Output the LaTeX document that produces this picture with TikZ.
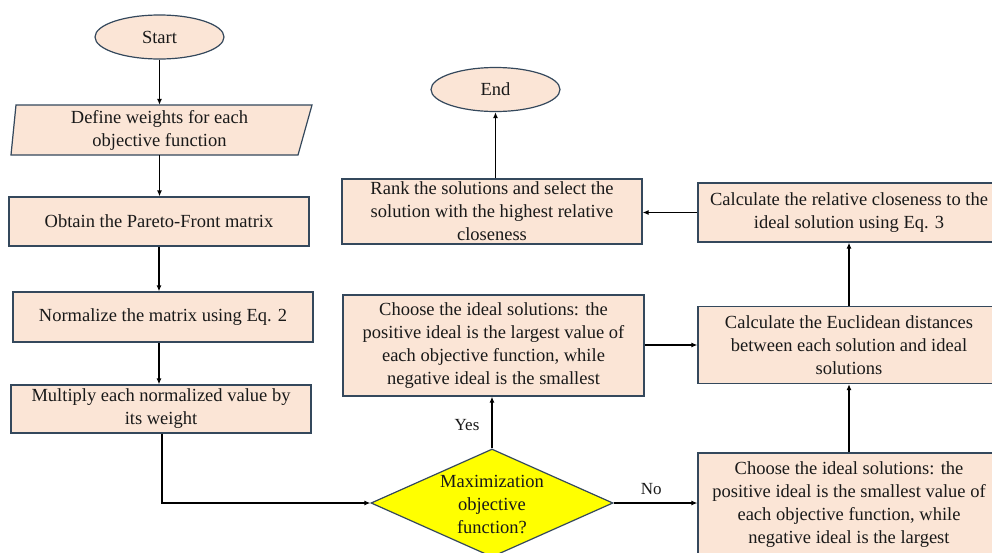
\documentclass[tikz,border=0pt]{standalone}
\usepackage{fontspec}
\setmainfont{Liberation Serif}
\usetikzlibrary{shapes.geometric,arrows.meta}
\definecolor{boxfill}{RGB}{251,229,214}
\definecolor{boxline}{RGB}{52,72,92}
\definecolor{txt}{RGB}{25,25,25}
\definecolor{decfill}{RGB}{255,255,0}
\begin{document}
\begin{tikzpicture}[x=1pt,y=-1pt,
  every node/.style={font=\fontsize{18.5}{23}\selectfont, text=txt, align=center, inner sep=0pt},
  proc/.style={rectangle, draw=boxline, fill=boxfill, line width=1.2pt},
  term/.style={ellipse, draw=boxline, fill=boxfill, line width=1.2pt, minimum width=129pt, minimum height=44pt},
  arr/.style={-{Latex[length=6pt,width=5pt]}, line width=1.2pt, black},
  lbl/.style={font=\fontsize{17}{20}\selectfont}
]
\clip (0,0) rectangle (992,552);
\fill[white] (0,0) rectangle (992,552);

% left column
\node[term] (start) at (159.5,37) {Start};

\coordinate (wa) at (16,105);
\coordinate (wb) at (312,105);
\coordinate (wc) at (298,155);
\coordinate (wd) at (11,155);
\draw[draw=boxline, fill=boxfill, line width=1.2pt] (wa) -- (wb) -- (wc) -- (wd) -- cycle;
\node[minimum width=287pt, minimum height=50pt] (weights) at (159.5,130) {Define weights for each\\objective function};

\node[proc, minimum width=300pt, minimum height=49pt] (obtain) at (159,221.5) {Obtain the Pareto-Front matrix};
\node[proc, minimum width=300pt, minimum height=50pt] (normal) at (163,317) {Normalize the matrix using Eq. 2};
\node[proc, minimum width=300pt, minimum height=48pt] (multiply) at (161,409) {Multiply each normalized value by\\its weight};

% decision
\node[diamond, draw=boxline, fill=decfill, line width=1.2pt, minimum width=242pt, minimum height=108pt] (dec) at (492,503) {};
\node (dectext) at (492,504) {Maximization\\objective\\function?};

% middle column
\node[term] (end) at (495.5,89.5) {End};
\node[proc, minimum width=300pt, minimum height=65pt] (rank) at (492,211.5) {Rank the solutions and select the\\solution with the highest relative\\closeness};
\node[proc, minimum width=301pt, minimum height=101pt] (cmax) at (493.5,345.5) {Choose the ideal solutions: the\\positive ideal is the largest value of\\each objective function, while\\negative ideal is the smallest};

% right column (runs past the right margin)
\node[proc, minimum width=302pt, minimum height=59pt] (rel) at (849,212.5) {Calculate the relative closeness to the\\ideal solution using Eq. 3};
\node[proc, minimum width=302pt, minimum height=77pt] (euc) at (849,345) {Calculate the Euclidean distances\\between each solution and ideal\\solutions};
\node[proc, minimum width=302pt, minimum height=104pt] (cmin) at (849,505) {Choose the ideal solutions: the\\positive ideal is the smallest value of\\each objective function, while\\negative ideal is the largest};

% connectors
\draw[arr] (start.south) -- (weights.north);
\draw[arr] (weights.south) -- (weights.south |- obtain.north);
\draw[arr] (obtain.south) -- (obtain.south |- normal.north);
\draw[arr] (obtain.south |- normal.south) -- (obtain.south |- multiply.north);
\draw[arr] ([xshift=1pt]multiply.south) |- (dec.west);
\draw[arr] (dec.north) -- (dec.north |- cmax.south) node[lbl, pos=0.45, left=12pt] {Yes};
\draw[arr] (dec.east) -- (dec.east -| cmin.west) node[lbl, pos=0.45, above=8pt] {No};
\draw[arr] (cmin.north) -- (euc.south);
\draw[arr] (euc.north) -- (rel.south);
\draw[arr] (cmax.east |- euc.west) -- (euc.west);
\draw[arr] (rel.west) -- (rel.west -| rank.east);
\draw[arr] (end.south |- rank.north) -- (end.south);
\end{tikzpicture}
\end{document}
